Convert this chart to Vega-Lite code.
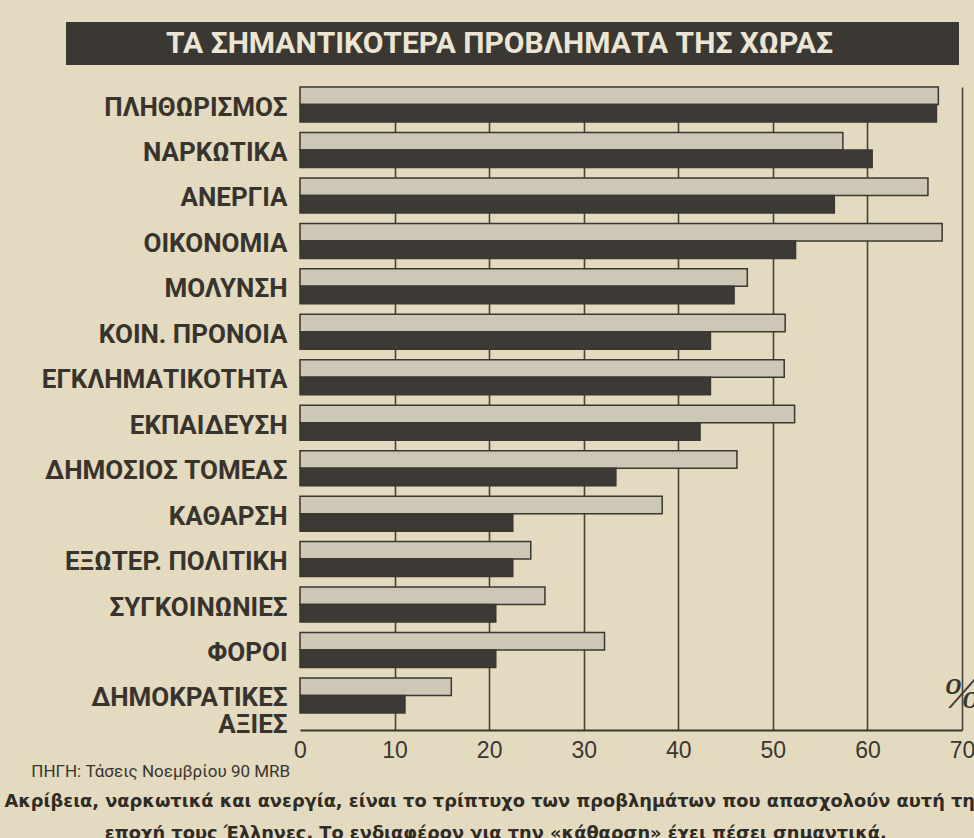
{
  "$schema": "https://vega.github.io/schema/vega-lite/v6.json",
  "background": "#e3dac0",
  "padding": {"left": 4, "top": 22, "right": 0, "bottom": 0},
  "config": {"view": {"stroke": null}},
  "spacing": 21,
  "title": {
    "text": ["Ακρίβεια, ναρκωτικά και ανεργία, είναι το τρίπτυχο των προβλημάτων που απασχολούν αυτή την", "εποχή τους Έλληνες. Το ενδιαφέρον για την «κάθαρση» έχει πέσει σημαντικά."],
    "orient": "bottom",
    "anchor": "middle",
    "frame": "bounds",
    "font": "DejaVu Sans",
    "fontWeight": "bold",
    "fontSize": 17.8,
    "lineHeight": 32,
    "color": "#2f2b25",
    "offset": 13,
    "dx": -10
  },
  "vconcat": [
    {
      "width": 662,
      "height": 43,
      "data": {"values": [{"t": "ΤΑ ΣΗΜΑΝΤΙΚΟΤΕΡΑ ΠΡΟΒΛΗΜΑΤΑ ΤΗΣ ΧΩΡΑΣ"}]},
      "layer": [
        {
          "mark": {"type": "rect", "color": "#3b3833"},
          "encoding": {
            "x": {"datum": -24.74, "type": "quantitative", "scale": {"domain": [0, 70], "nice": false, "zero": false}, "axis": null},
            "x2": {"datum": 69.68}
          }
        },
        {
          "mark": {"type": "text", "font": "Roboto", "fontWeight": "bold", "fontSize": 30, "color": "#ece5d3", "align": "center", "baseline": "middle"},
          "encoding": {
            "x": {"datum": 21.1, "type": "quantitative"},
            "text": {"field": "t"}
          }
        }
      ]
    },
    {
      "width": 662,
      "height": 643,
      "title": {
        "text": "ΠΗΓΗ: Τάσεις Νοεμβρίου 90 MRB",
        "orient": "bottom",
        "anchor": "start",
        "frame": "bounds",
        "font": "Roboto",
        "fontWeight": "normal",
        "fontSize": 17,
        "color": "#3a362f",
        "offset": 2,
        "dx": -10
      },
      "data": {"values": [
        {"problem": "ΠΛΗΘΩΡΙΣΜΟΣ", "survey": "Προηγούμενη", "pct": 67.5},
        {"problem": "ΠΛΗΘΩΡΙΣΜΟΣ", "survey": "Νοέμβριος 90", "pct": 67.3},
        {"problem": "ΝΑΡΚΩΤΙΚΑ", "survey": "Προηγούμενη", "pct": 57.4},
        {"problem": "ΝΑΡΚΩΤΙΚΑ", "survey": "Νοέμβριος 90", "pct": 60.5},
        {"problem": "ΑΝΕΡΓΙΑ", "survey": "Προηγούμενη", "pct": 66.4},
        {"problem": "ΑΝΕΡΓΙΑ", "survey": "Νοέμβριος 90", "pct": 56.5},
        {"problem": "ΟΙΚΟΝΟΜΙΑ", "survey": "Προηγούμενη", "pct": 67.9},
        {"problem": "ΟΙΚΟΝΟΜΙΑ", "survey": "Νοέμβριος 90", "pct": 52.4},
        {"problem": "ΜΟΛΥΝΣΗ", "survey": "Προηγούμενη", "pct": 47.3},
        {"problem": "ΜΟΛΥΝΣΗ", "survey": "Νοέμβριος 90", "pct": 45.9},
        {"problem": "ΚΟΙΝ. ΠΡΟΝΟΙΑ", "survey": "Προηγούμενη", "pct": 51.3},
        {"problem": "ΚΟΙΝ. ΠΡΟΝΟΙΑ", "survey": "Νοέμβριος 90", "pct": 43.4},
        {"problem": "ΕΓΚΛΗΜΑΤΙΚΟΤΗΤΑ", "survey": "Προηγούμενη", "pct": 51.2},
        {"problem": "ΕΓΚΛΗΜΑΤΙΚΟΤΗΤΑ", "survey": "Νοέμβριος 90", "pct": 43.4},
        {"problem": "ΕΚΠΑΙΔΕΥΣΗ", "survey": "Προηγούμενη", "pct": 52.3},
        {"problem": "ΕΚΠΑΙΔΕΥΣΗ", "survey": "Νοέμβριος 90", "pct": 42.3},
        {"problem": "ΔΗΜΟΣΙΟΣ ΤΟΜΕΑΣ", "survey": "Προηγούμενη", "pct": 46.2},
        {"problem": "ΔΗΜΟΣΙΟΣ ΤΟΜΕΑΣ", "survey": "Νοέμβριος 90", "pct": 33.4},
        {"problem": "ΚΑΘΑΡΣΗ", "survey": "Προηγούμενη", "pct": 38.3},
        {"problem": "ΚΑΘΑΡΣΗ", "survey": "Νοέμβριος 90", "pct": 22.5},
        {"problem": "ΕΞΩΤΕΡ. ΠΟΛΙΤΙΚΗ", "survey": "Προηγούμενη", "pct": 24.4},
        {"problem": "ΕΞΩΤΕΡ. ΠΟΛΙΤΙΚΗ", "survey": "Νοέμβριος 90", "pct": 22.5},
        {"problem": "ΣΥΓΚΟΙΝΩΝΙΕΣ", "survey": "Προηγούμενη", "pct": 25.9},
        {"problem": "ΣΥΓΚΟΙΝΩΝΙΕΣ", "survey": "Νοέμβριος 90", "pct": 20.7},
        {"problem": "ΦΟΡΟΙ", "survey": "Προηγούμενη", "pct": 32.2},
        {"problem": "ΦΟΡΟΙ", "survey": "Νοέμβριος 90", "pct": 20.7},
        {"problem": "ΔΗΜΟΚΡΑΤΙΚΕΣ ΑΞΙΕΣ", "survey": "Προηγούμενη", "pct": 16.0},
        {"problem": "ΔΗΜΟΚΡΑΤΙΚΕΣ ΑΞΙΕΣ", "survey": "Νοέμβριος 90", "pct": 11.1}
      ]},
      "layer": [
        {
          "mark": {"type": "bar", "stroke": "#3b3731", "strokeWidth": 1.5},
          "encoding": {
            "y": {
              "field": "problem",
              "type": "nominal",
              "scale": {
                "domain": ["ΠΛΗΘΩΡΙΣΜΟΣ", "ΝΑΡΚΩΤΙΚΑ", "ΑΝΕΡΓΙΑ", "ΟΙΚΟΝΟΜΙΑ", "ΜΟΛΥΝΣΗ", "ΚΟΙΝ. ΠΡΟΝΟΙΑ", "ΕΓΚΛΗΜΑΤΙΚΟΤΗΤΑ", "ΕΚΠΑΙΔΕΥΣΗ", "ΔΗΜΟΣΙΟΣ ΤΟΜΕΑΣ", "ΚΑΘΑΡΣΗ", "ΕΞΩΤΕΡ. ΠΟΛΙΤΙΚΗ", "ΣΥΓΚΟΙΝΩΝΙΕΣ", "ΦΟΡΟΙ", "ΔΗΜΟΚΡΑΤΙΚΕΣ ΑΞΙΕΣ"],
                "paddingInner": 0.23,
                "paddingOuter": 0.187,
                "align": 0
              },
              "axis": {
                "title": null,
                "domain": false,
                "ticks": false,
                "grid": false,
                "labelFont": "Roboto",
                "labelFontWeight": "bold",
                "labelFontSize": 26,
                "labelColor": "#38342d",
                "labelPadding": 13,
                "labelLimit": 400,
                "labelOffset": 3,
                "labelLineHeight": 27,
                "labelExpr": "datum.label == 'ΔΗΜΟΚΡΑΤΙΚΕΣ ΑΞΙΕΣ' ? ['ΔΗΜΟΚΡΑΤΙΚΕΣ', 'ΑΞΙΕΣ'] : datum.label"
              }
            },
            "yOffset": {
              "field": "survey",
              "type": "nominal",
              "sort": ["Προηγούμενη", "Νοέμβριος 90"],
              "scale": {"paddingInner": 0, "paddingOuter": 0}
            },
            "x": {
              "field": "pct",
              "type": "quantitative",
              "scale": {"domain": [0, 70], "nice": false},
              "axis": {
                "title": null,
                "values": [0, 10, 20, 30, 40, 50, 60, 70],
                "grid": true,
                "gridColor": "#47433b",
                "gridWidth": 1.6,
                "gridOpacity": {"condition": {"test": "datum.value === 0", "value": 0}, "value": 1},
                "ticks": false,
                "domain": true,
                "domainColor": "#3b3731",
                "domainWidth": 2,
                "labelFont": "Liberation Sans",
                "labelFontSize": 23,
                "labelColor": "#3b3731",
                "labelPadding": 9,
                "labelFlush": false,
                "labelOverlap": false
              }
            },
            "color": {
              "field": "survey",
              "type": "nominal",
              "sort": ["Προηγούμενη", "Νοέμβριος 90"],
              "scale": {"range": ["#cdc7b5", "#3d3934"]},
              "legend": null
            }
          }
        },
        {
          "data": {"values": [{"unit": "%"}]},
          "mark": {"type": "text", "font": "Liberation Serif", "fontStyle": "italic", "fontSize": 44, "color": "#3a362f", "align": "center", "baseline": "middle"},
          "encoding": {
            "x": {"datum": 70},
            "y": {"datum": "ΔΗΜΟΚΡΑΤΙΚΕΣ ΑΞΙΕΣ"},
            "text": {"field": "unit"}
          }
        }
      ]
    }
  ]
}
